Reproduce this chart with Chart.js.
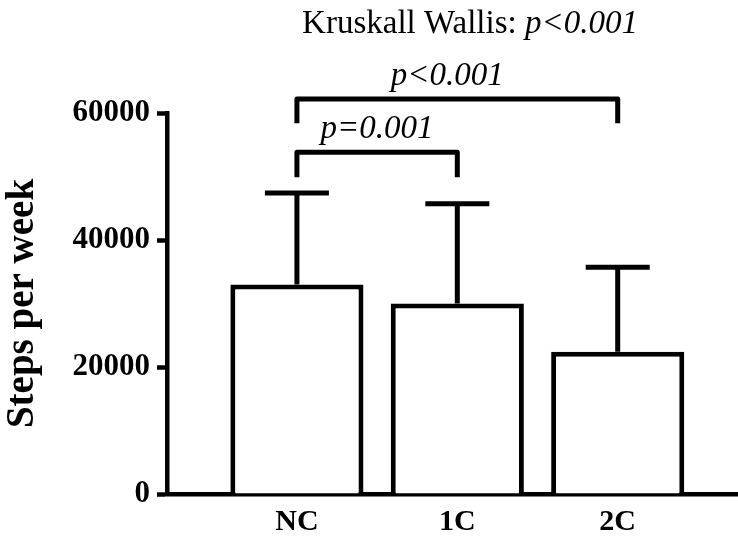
<!DOCTYPE html>
<html>
<head>
<meta charset="utf-8">
<script src="https://cdn.jsdelivr.net/npm/chart.js@4/dist/chart.umd.min.js"></script>
<style>
  html, body { margin: 0; padding: 0; background: #fff; }
  #wrap { width: 738px; height: 538px; position: relative; }
</style>
</head>
<body>
<div id="wrap"><canvas id="stepsChart"></canvas></div>
<script>
// --- data ---
const groups = ['NC', '1C', '2C'];
const meanSteps = [33000, 30000, 22400];
const sdUpper = [47400, 45700, 35700];
const yTicks = [0, 20000, 40000, 60000];

// significance brackets: group indices, bar level, leg end, label
const bracketFrom = [0, 0];
const bracketTo = [1, 2];
const bracketLevel = [53800, 62200];
const bracketLeg = [49900, 58400];
const bracketText = ['p=0.001', 'p<0.001'];

const titleText = 'Kruskall Wallis: ';
const titleP = 'p<0.001';

const SERIF = '"Liberation Serif", "Times New Roman", serif';

const errorBars = {
    id: 'errorBars',
    afterDatasetsDraw(chart) {
        const ctx = chart.ctx;
        const y = chart.scales.y;
        const bars = chart.getDatasetMeta(0).data;
        ctx.save();
        ctx.strokeStyle = '#000';
        ctx.lineWidth = 5;
        bars.forEach((bar, i) => {
            const top = y.getPixelForValue(sdUpper[i]);
            ctx.beginPath();
            ctx.moveTo(bar.x, bar.y);
            ctx.lineTo(bar.x, top);
            ctx.moveTo(bar.x - 32, top);
            ctx.lineTo(bar.x + 32, top);
            ctx.stroke();
        });

        // brackets
        ctx.lineJoin = 'round';
        ctx.fillStyle = '#000';
        ctx.textAlign = 'center';
        ctx.textBaseline = 'alphabetic';
        ctx.font = 'italic 33px ' + SERIF;
        bracketFrom.forEach((f, k) => {
            const x1 = bars[f].x, x2 = bars[bracketTo[k]].x;
            const yl = y.getPixelForValue(bracketLevel[k]);
            const yb = y.getPixelForValue(bracketLeg[k]);
            ctx.beginPath();
            ctx.moveTo(x1, yb);
            ctx.lineTo(x1, yl);
            ctx.lineTo(x2, yl);
            ctx.lineTo(x2, yb);
            ctx.stroke();
            ctx.fillText(bracketText[k], (x1 + x2) / 2 - (k ? 10 : 0), yl - 14);
        });

        // title with italic p-value
        ctx.textAlign = 'left';
        ctx.font = '33px ' + SERIF;
        const w1 = ctx.measureText(titleText).width;
        ctx.font = 'italic 33px ' + SERIF;
        const w2 = ctx.measureText(titleP).width;
        const x0 = 470 - (w1 + w2) / 2;
        ctx.font = '33px ' + SERIF;
        ctx.fillText(titleText, x0, 33);
        ctx.font = 'italic 33px ' + SERIF;
        ctx.fillText(titleP, x0 + w1, 33);
        ctx.restore();
    }
};

new Chart(document.getElementById('stepsChart'), {
    type: 'bar',
    data: {
        datasets: [{
            data: groups.map((g, i) => ({ x: i + 1, y: meanSteps[i] })),
            backgroundColor: '#ffffff',
            borderColor: '#000000',
            borderWidth: 5,
            categoryPercentage: 1,
            barPercentage: 0.83
        }]
    },
    options: {
        responsive: true,
        maintainAspectRatio: false,
        animation: false,
        layout: { padding: { top: 113, right: 0, left: 0, bottom: 0 } },
        plugins: {
            legend: { display: false },
            tooltip: { enabled: false }
        },
        scales: {
            x: {
                type: 'linear',
                offset: false,
                min: 0.19,
                max: 3.75,
                afterBuildTicks: axis => { axis.ticks = groups.map((g, i) => ({ value: i + 1 })); },
                afterFit: s => { s.height = 44; },
                grid: { display: false, drawTicks: false },
                border: { display: true, color: '#000', width: 4.5 },
                ticks: {
                    autoSkip: false,
                    maxRotation: 0,
                    padding: 10,
                    color: '#000',
                    font: { family: SERIF, size: 30, weight: 'bold' },
                    callback: v => groups[v - 1]
                }
            },
            y: {
                min: 0,
                max: 60000,
                afterBuildTicks: axis => { axis.ticks = yTicks.map(v => ({ value: v })); },
                afterFit: s => { s.width = 167; },
                grid: {
                    drawOnChartArea: false,
                    drawTicks: true,
                    tickLength: 10,
                    tickWidth: 4.5,
                    tickColor: '#000'
                },
                border: { display: true, color: '#000', width: 4.5 },
                ticks: {
                    padding: 7,
                    color: '#000',
                    font: { family: SERIF, size: 31, weight: 'bold' },
                    callback: v => String(v)
                },
                title: {
                    display: true,
                    text: 'Steps per week',
                    color: '#000',
                    padding: { top: 0, bottom: 0 },
                    font: { family: SERIF, size: 39, weight: 'bold' }
                }
            }
        }
    },
    plugins: [errorBars]
});
</script>
</body>
</html>
